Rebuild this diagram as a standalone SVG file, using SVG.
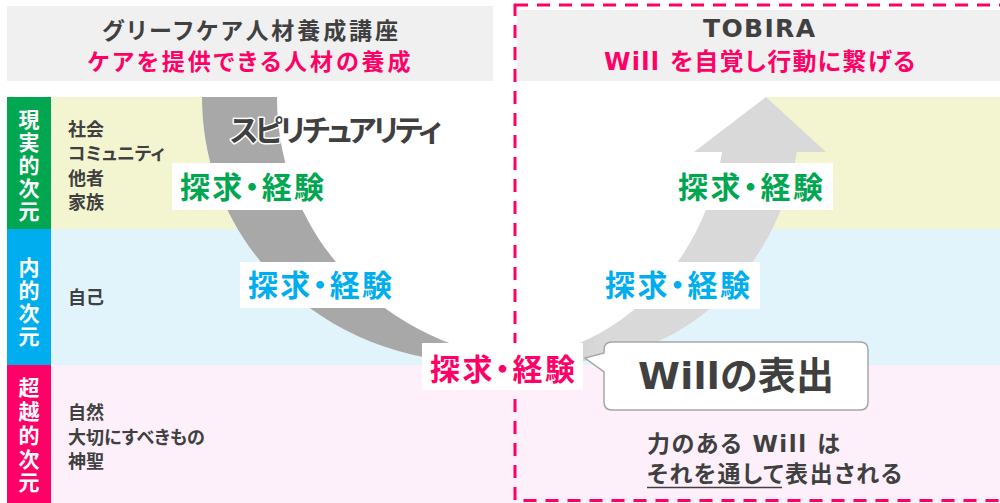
<svg xmlns="http://www.w3.org/2000/svg" width="1000" height="503" viewBox="0 0 1000 503">
<style>
.jp{font-family:"Noto Sans CJK JP","Noto Sans",sans-serif;font-weight:700;font-feature-settings:"palt"}
.mix{font-family:"DejaVu Sans","Noto Sans CJK JP",sans-serif;font-weight:700;font-feature-settings:"palt"}
.dark{fill:#404040}
.pink{fill:#ff0066}
.green{fill:#00a650}
.blue{fill:#00aeef}
.vlab{font-family:"Noto Sans CJK JP",sans-serif;font-weight:700;fill:#ffffff;font-size:21px;writing-mode:vertical-rl;text-orientation:upright}
.list{font-size:18px}
.lab{font-size:30px}
.hdr{fill:#f0f0f0}
.box{fill:#ffffff}
</style>
<defs>
<linearGradient id="arcGrad" gradientUnits="userSpaceOnUse" x1="430" y1="0" x2="600" y2="0">
<stop offset="0" stop-color="#a8a8a8"/>
<stop offset="1" stop-color="#d9d9d9"/>
</linearGradient>
</defs>

<g id="bands">
<rect x="51" y="97" width="949" height="132" fill="#f3f5d0"/>
<rect x="51" y="229" width="949" height="136" fill="#e2f4fb"/>
<rect x="51" y="365" width="949" height="138" fill="#fdf0fb"/>
</g>

<g id="headers">
<rect class="hdr" x="7" y="6" width="486" height="75"/>
<text class="jp dark" x="250" y="39" font-size="23" text-anchor="middle" textLength="296">グリーフケア人材養成講座</text>
<text class="jp pink" x="249" y="70" font-size="23" text-anchor="middle" textLength="323">ケアを提供できる人材の養成</text>
<rect class="hdr" x="517" y="10" width="483" height="71"/>
<text class="dark" x="759" y="37" font-size="25" font-family="'DejaVu Sans',sans-serif" font-weight="700" text-anchor="middle" textLength="112">TOBIRA</text>
<text class="mix pink" x="759.5" y="70" font-size="24" text-anchor="middle" textLength="311">Will を自覚し行動に繋げる</text>
</g>

<g id="dim-real">
<rect x="7" y="97" width="44" height="132" fill="#00a650"/>
<text class="vlab" x="29" y="109" letter-spacing="2">現実的次元</text>
<text class="jp list dark"><tspan x="68" y="135.5">社会</tspan><tspan x="68" y="160">コミュニティ</tspan><tspan x="68" y="185">他者</tspan><tspan x="68" y="209">家族</tspan></text>
</g>

<g id="dim-inner">
<rect x="7" y="229" width="44" height="136" fill="#00aeef"/>
<text class="vlab" x="29" y="257" letter-spacing="2">内的次元</text>
<text class="jp list dark" x="68" y="304">自己</text>
</g>

<g id="dim-trans">
<rect x="7" y="365" width="44" height="138" fill="#ff0066"/>
<text class="vlab" x="29" y="377" letter-spacing="2.7">超越的次元</text>
<text class="jp list dark"><tspan x="68" y="419">自然</tspan><tspan x="68" y="443.5">大切にすべきもの</tspan><tspan x="68" y="467.5">神聖</tspan></text>
</g>

<g id="connectors">
<path d="M202,97 C202,230 300,340 440,360 L565,362 C695,360 780,260 797,152 L766,97 Z" fill="#ffffff"/>
<path d="M202,97 C202,230 300,340 440,360 L490,362 L565,362 C695,360 780,260 797,152 L826,152 L766,97 L694,152 L722,152 C705,260 620,360 490,362 L515,360 C375,340 277,230 277,97 Z" fill="url(#arcGrad)"/>
</g>

<g id="spirituality">
<text class="jp dark" x="230" y="141" font-size="30" textLength="212" stroke="#ffffff" stroke-width="3" paint-order="stroke" stroke-linejoin="round">スピリチュアリティ</text>
</g>

<g id="tobira-frame">
<rect x="515" y="5" width="500" height="495.5" fill="none" stroke="#ff0066" stroke-width="3" stroke-dasharray="13 9"/>
</g>

<g id="label-green-left">
<rect class="box" x="172" y="163" width="155" height="47"/>
<text class="jp lab green" x="180" y="198" textLength="144">探求・経験</text>
</g>
<g id="label-blue-left">
<rect class="box" x="240" y="262" width="160" height="46"/>
<text class="jp lab blue" x="248" y="296" textLength="144">探求・経験</text>
</g>
<g id="label-pink">
<rect class="box" x="422" y="343" width="161" height="47"/>
<text class="jp lab pink" x="430" y="380" textLength="145">探求・経験</text>
</g>
<g id="label-green-right">
<rect class="box" x="673" y="163" width="160" height="47"/>
<text class="jp lab green" x="678" y="198" textLength="145">探求・経験</text>
</g>
<g id="label-blue-right">
<rect class="box" x="602" y="262" width="158" height="47"/>
<text class="jp lab blue" x="605" y="296" textLength="145">探求・経験</text>
</g>

<g id="will-callout">
<path d="M612,342 H860 Q868,342 868,350 V402 Q868,410 860,410 H612 Q604,410 604,402 V372 L585,358 L604,353 V350 Q604,342 612,342 Z" fill="#ffffff" stroke="#a6a6a6" stroke-width="1.5"/>
<text class="mix dark" x="736" y="389" font-size="38" text-anchor="middle" textLength="196">Willの表出</text>
</g>

<g id="will-note">
<text class="mix dark" x="647" y="452" font-size="23" textLength="193">力のある Will は</text>
<text class="jp dark" x="647" y="482" font-size="23" textLength="255">それを通して表出される</text>
<line x1="647" y1="487.5" x2="782" y2="487.5" stroke="#404040" stroke-width="1.5"/>
</g>
</svg>
